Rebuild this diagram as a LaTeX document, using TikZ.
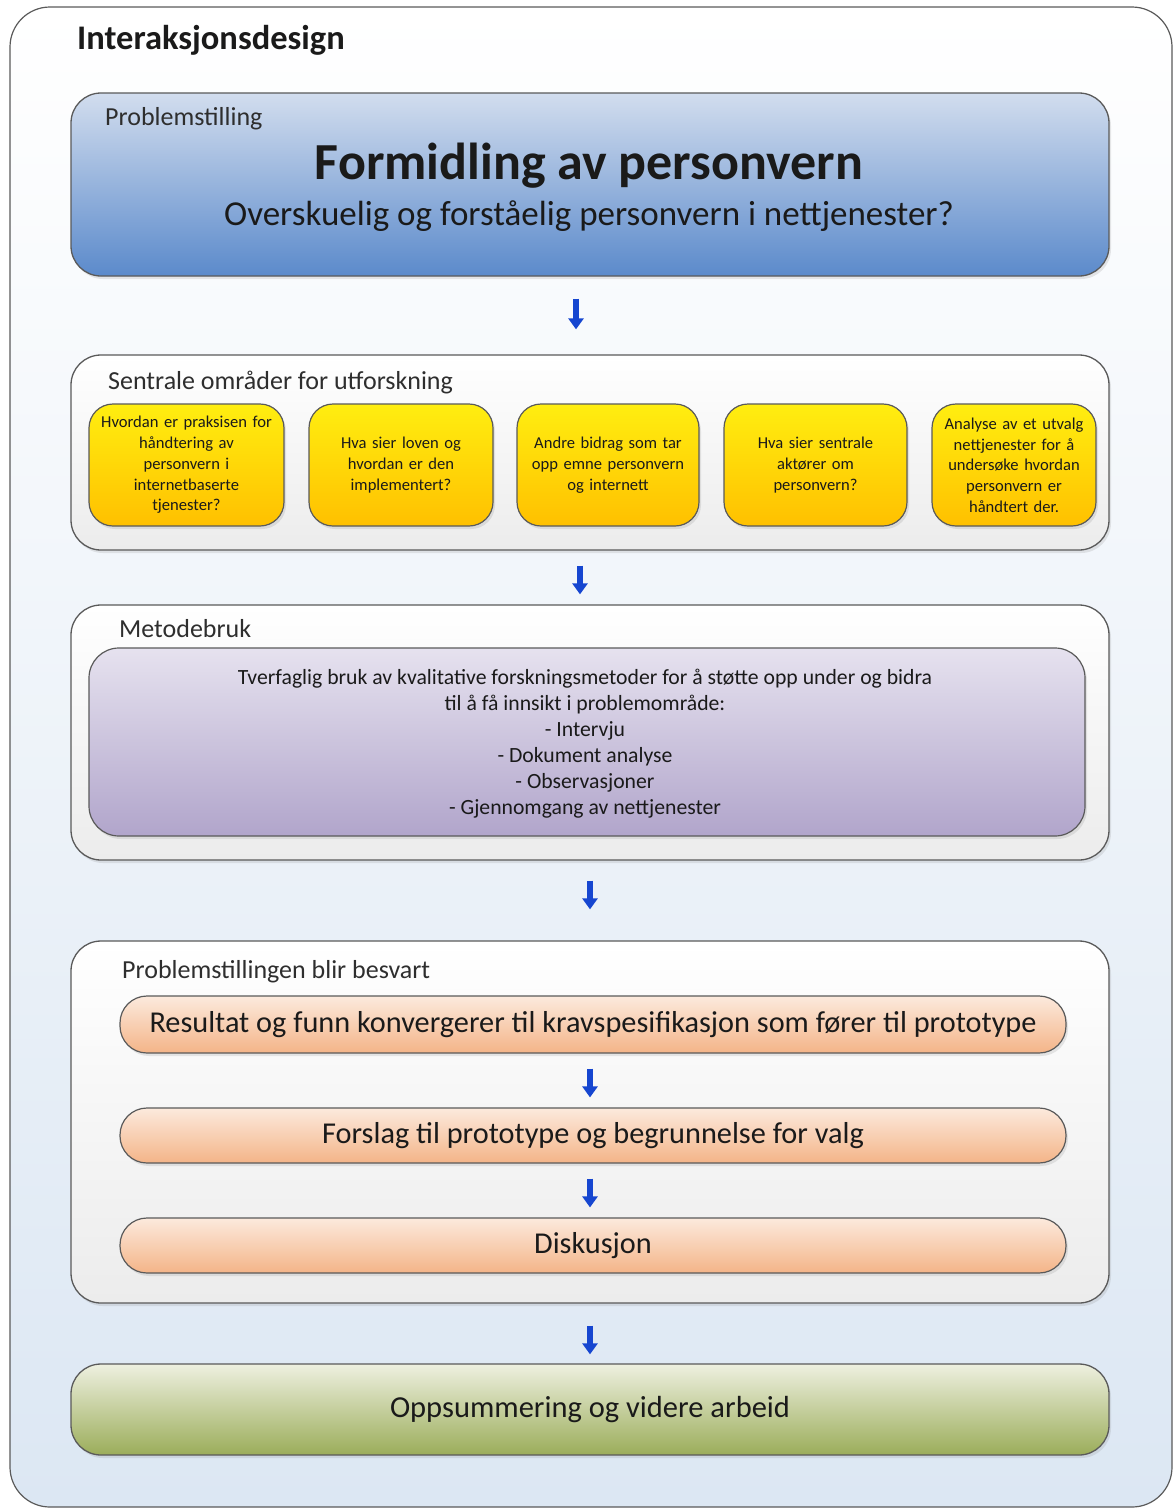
\documentclass[tikz,border=0pt]{standalone}
\usepackage{fontspec}
\setmainfont{Carlito}
\usetikzlibrary{arrows.meta,shadows}

\definecolor{edge}{HTML}{5A5A5A}
\definecolor{inktext}{HTML}{1A1A1A}
\definecolor{labeltext}{HTML}{2E2E2E}
\definecolor{flowblue}{HTML}{1646D0}
\definecolor{washbottom}{HTML}{DCE7F3}
\definecolor{bluetop}{HTML}{D2DDEE}
\definecolor{bluebottom}{HTML}{5B8ACB}
\definecolor{greytop}{HTML}{FFFFFF}
\definecolor{greybottom}{HTML}{ECECEC}
\definecolor{yellowtop}{HTML}{FFEE10}
\definecolor{yellowbottom}{HTML}{FFC000}
\definecolor{lilactop}{HTML}{E6E2EF}
\definecolor{lilacbottom}{HTML}{B1A5CB}
\definecolor{peachtop}{HTML}{FCEADD}
\definecolor{peachbottom}{HTML}{F4B488}
\definecolor{greentop}{HTML}{EEF0E0}
\definecolor{greenbottom}{HTML}{9BAD5A}

\newcommand\fsz[1]{\fontsize{#1}{\dimexpr #1pt*6/5\relax}\selectfont}

\tikzset{
  softshadow/.style={drop shadow={opacity=0.18, shadow xshift=2pt, shadow yshift=-3pt}},
  panel/.style={draw=edge, line width=1.3pt, rounded corners=30pt,
    top color=greytop, bottom color=greybottom, softshadow},
  question/.style={draw=edge, line width=1.2pt, rounded corners=24pt,
    top color=yellowtop, bottom color=yellowbottom,
    text=inktext, align=center, font=\fontsize{16.6}{20.7}\selectfont, inner sep=1pt, softshadow},
  pill/.style={draw=edge, line width=1.2pt, rounded corners=27pt,
    top color=peachtop, bottom color=peachbottom,
    text=inktext, font=\fsz{30.3}, softshadow},
  heading/.style={anchor=base west, text=labeltext, inner sep=0pt},
  flow/.style={-{Triangle[width=15pt,length=11pt]}, line width=6pt, draw=flowblue},
}

\begin{document}
\begin{tikzpicture}[x=1pt, y=-1pt]
\useasboundingbox (0,0) rectangle (1175,1510);

% outer frame with its faint blue wash
\node[draw=edge, line width=1.2pt, rounded corners=40pt,
      top color=white, bottom color=washbottom,
      minimum width=1162pt, minimum height=1500pt] (frame) at (591,757) {};
\node[heading, text=inktext, font=\bfseries\fsz{34.5}] (title) at (77,49) {Interaksjonsdesign};

% problem statement
\node[panel, top color=bluetop, bottom color=bluebottom,
      minimum width=1038pt, minimum height=183pt] (prob) at (590,184.5) {};
\node[heading, font=\fsz{26}] (problbl) at (105,125) {Problemstilling};
\node[text=inktext, font=\bfseries\fsz{52}, inner sep=0pt] (probmain) at (589,166) {Formidling av personvern};
\node[text=inktext, font=\fsz{35}, inner sep=0pt] (probsub) at (589,216) {Overskuelig og forståelig personvern i nettjenester?};

% central research areas
\node[panel, minimum width=1038pt, minimum height=195pt] (sent) at (590,452.5) {};
\node[heading, font=\fsz{26}] (sentlbl) at (108,389) {Sentrale områder for utforskning};

\node[question, minimum width=195pt, minimum height=122pt, text width=190pt] (q1) at (186.5,465)
  {Hvordan er praksisen for\\håndtering av\\personvern i\\internetbaserte\\tjenester?};
\node[question, minimum width=184pt, minimum height=122pt, text width=180pt] (q2) at (401,465)
  {Hva sier loven og\\hvordan er den\\implementert?};
\node[question, minimum width=182pt, minimum height=122pt, text width=178pt] (q3) at (608,465)
  {Andre bidrag som tar\\opp emne personvern\\og internett};
\node[question, minimum width=183pt, minimum height=122pt, text width=178pt] (q4) at (815.5,465)
  {Hva sier sentrale\\aktører om\\personvern?};
\node[question, minimum width=164pt, minimum height=122pt, text width=160pt] (q5) at (1014,465)
  {Analyse av et utvalg\\nettjenester for å\\undersøke hvordan\\personvern er\\håndtert der.};

% methods
\node[panel, minimum width=1038pt, minimum height=255pt] (meto) at (590,732.5) {};
\node[heading, font=\fsz{26}] (metolbl) at (119,637) {Metodebruk};
\node[panel, line width=1.2pt, top color=lilactop, bottom color=lilacbottom,
      minimum width=996pt, minimum height=188pt] (metobox) at (587,742) {};
\node[text=inktext, align=center, font=\fontsize{21.7}{26}\selectfont, inner sep=0pt] (metotext) at (585,744)
  {Tverfaglig bruk av kvalitative forskningsmetoder for å støtte opp under og bidra\\
   til å få innsikt i problemområde:\\
   - Intervju\\
   - Dokument analyse\\
   - Observasjoner\\
   - Gjennomgang av nettjenester};

% answering the problem
\node[panel, minimum width=1038pt, minimum height=362pt] (besv) at (590,1122) {};
\node[heading, font=\fsz{26}] (besvlbl) at (122,978) {Problemstillingen blir besvart};
\node[pill, minimum width=946pt, minimum height=57pt] (p1) at (593,1024.5)
  {Resultat og funn konvergerer til kravspesifikasjon som fører til prototype};
\node[pill, minimum width=946pt, minimum height=55pt] (p2) at (593,1135.5)
  {Forslag til prototype og begrunnelse for valg};
\node[pill, minimum width=946pt, minimum height=55pt] (p3) at (593,1245.5)
  {Diskusjon};

% summary
\node[panel, top color=greentop, bottom color=greenbottom,
      text=inktext, font=\fsz{30.5},
      minimum width=1038pt, minimum height=91pt] (summ) at (590,1409.5) {Oppsummering og videre arbeid};

% flow arrows
\draw[flow] ([xshift=-14pt, yshift=-22pt]prob.south) -- ([xshift=-14pt, yshift=25pt]sent.north);
\draw[flow] ([xshift=-10pt, yshift=-15pt]sent.south) -- ([xshift=-10pt, yshift=10pt]meto.north);
\draw[flow] ([yshift=-20pt]meto.south) -- ([yshift=31pt]besv.north);
\draw[flow] ([xshift=-3pt, yshift=-15pt]p1.south) -- ([xshift=-3pt, yshift=10pt]p2.north);
\draw[flow] ([xshift=-3pt, yshift=-15pt]p2.south) -- ([xshift=-3pt, yshift=10pt]p3.north);
\draw[flow] ([yshift=-22pt]besv.south) -- ([yshift=9pt]summ.north);
\end{tikzpicture}
\end{document}
